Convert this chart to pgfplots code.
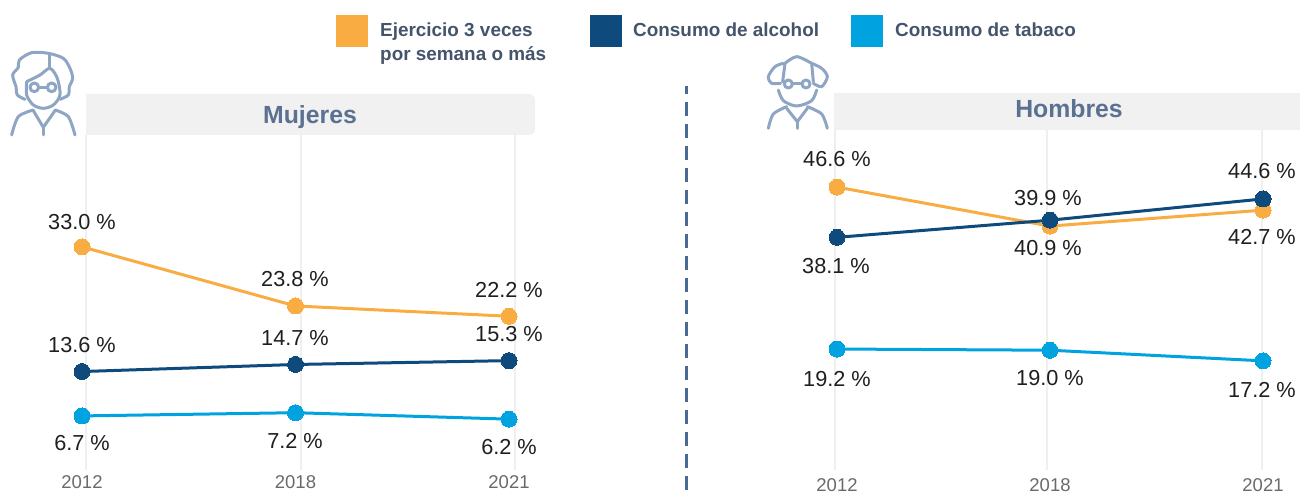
\documentclass[border=0pt]{standalone}
\usepackage{pgfplots}
\pgfplotsset{compat=1.18}
\usepackage{fontspec}
\setmainfont{Liberation Sans}
\definecolor{cOr}{HTML}{F9AC42}
\definecolor{cNa}{HTML}{0F4A7C}
\definecolor{cCy}{HTML}{00A3E0}
\definecolor{cLeg}{HTML}{44546A}
\definecolor{cDash}{HTML}{4A6A94}
\definecolor{cTit}{HTML}{5A7192}
\definecolor{cIco}{HTML}{8FA5C4}
\definecolor{cBox}{HTML}{F1F1F1}
\definecolor{cGrid}{HTML}{EFEFEF}
\definecolor{cTick}{HTML}{6A6A6A}
\newcommand{\fs}[1]{\fontsize{#1}{#1}\selectfont}
\pgfplotsset{
  panel/.style={
    scale only axis, clip=false, xmin=0, xmax=2, ymin=0, ymax=50,
    anchor=south west, axis line style={draw=none}, ytick=\empty,
    axis x line=bottom, axis y line=none,
    xtick={0,1,2}, xticklabels={2012,2018,2021}, major tick length=0pt,
    xticklabel style={font=\fs{18.5}, text=cTick, yshift=-13pt},
  },
  ser/.style={color=#1, line width=3pt, mark=*, mark size=8pt, mark options={fill=#1, draw=#1, line width=0pt}},
}
\begin{document}
\begin{tikzpicture}
\path[use as bounding box] (0pt,0pt) rectangle (1300pt,-494pt);
\begin{scope}[x=1pt,y=-1pt]
% panels' backgrounds
\fill[cBox,rounded corners=6pt] (70,94) rectangle (535,135);
\fill[white] (60,90) rectangle (86,140);
\fill[cBox] (834,93) rectangle (1300,130);
\foreach \x in {86,301,515} \draw[cGrid,line width=2.5pt] (\x,135) -- (\x,470);
\foreach \x in {835,1047,1262} \draw[cGrid,line width=2.5pt] (\x,130) -- (\x,470);
\draw[cDash,line width=3pt,dash pattern=on 14pt off 8pt,dash phase=6pt] (686,86) -- (686,493);
% titles
\node[text=cTit,font=\fs{24.8}\bfseries] at (310,117) {Mujeres};
\node[text=cTit,font=\fs{24.8}\bfseries] at (1069,109) {Hombres};
% legend
\fill[cOr] (336,15) rectangle (368,47);
\fill[cNa] (590,15) rectangle (622,47);
\fill[cCy] (851,15) rectangle (883,47);
\node[anchor=base west,inner sep=0pt,text=cLeg,font=\fs{18.9}\bfseries] at (380,37) {Ejercicio 3 veces};
\node[anchor=base west,inner sep=0pt,text=cLeg,font=\fs{18.9}\bfseries] at (380,61) {por semana o más};
\node[anchor=base west,inner sep=0pt,text=cLeg,font=\fs{18.9}\bfseries] at (633,37) {Consumo de alcohol};
\node[anchor=base west,inner sep=0pt,text=cLeg,font=\fs{18.9}\bfseries] at (895,37) {Consumo de tabaco};
\end{scope}
% left panel
\begin{axis}[panel, at={(82pt,-459pt)}, width=427pt, height=321.5pt]
\addplot[ser=cOr] coordinates {(0,33.0) (1,23.8) (2,22.2)};
\addplot[ser=cNa] coordinates {(0,13.6) (1,14.7) (2,15.3)};
\addplot[ser=cCy] coordinates {(0,6.7) (1,7.2) (2,6.2)};
\end{axis}
% right panel
\begin{axis}[panel, at={(837pt,-462.5pt)}, width=426pt, height=295.5pt]
\addplot[ser=cOr] coordinates {(0,46.6) (1,40.0) (2,42.7)};
\addplot[ser=cNa] coordinates {(0,38.1) (1,41.0) (2,44.6)};
\addplot[ser=cCy] coordinates {(0,19.2) (1,19.0) (2,17.2)};
\end{axis}
\begin{scope}[x=1pt,y=-1pt]
% value labels
\foreach \x/\y/\t in {82/222/33.0,295/279/23.8,509/290/22.2,82/345/13.6,295/338/14.7,509/334/15.3,82/443/6.7,295/441/7.2,509/447/6.2,
  837/159/46.6,1048/198/39.9,1262/171/44.6,836/266/38.1,1048/248/40.9,1262/237/42.7,837/379/19.2,1050/378/19.0,1262/390/17.2}
  \node[font=\fs{21.7},text=black!88] at (\x,\y) {\t{} \%};
% woman icon
\begin{scope}[shift={(0,40)},x=0.3333pt,y=-0.3333pt,cIco,line width=3pt,line cap=round,line join=round]
\draw plot[smooth] coordinates {(75,178) (52,165) (48,140) (38,105) (55,82) (58,60) (95,38) (145,40) (190,55) (210,85) (218,115) (208,140) (205,165) (180,178)};
\draw (150,42) -- (150,85);
\draw plot[smooth] coordinates {(80,125) (120,105) (150,85) (172,115) (180,165) (160,195) (130,205) (100,195) (80,165) (80,125)};
\draw (103,142) circle[radius=13];
\draw (155,142) circle[radius=13];
\draw (116,142) -- (142,142);
\draw plot[smooth] coordinates {(35,285) (55,230) (100,210)};
\draw plot[smooth] coordinates {(165,210) (205,230) (225,285)};
\draw (100,212) -- (130,262) -- (165,212);
\draw (130,262) -- (130,285);
\end{scope}
% man icon
\begin{scope}[shift={(750,40)},x=0.3333pt,y=-0.3333pt,cIco,line width=3pt,line cap=round,line join=round]
\draw plot[smooth] coordinates {(100,70) (75,80) (55,110) (65,130) (92,130)};
\draw plot[smooth] coordinates {(105,70) (140,50) (185,70)};
\draw plot[smooth] coordinates {(185,70) (215,85) (232,110) (215,140) (190,130)};
\draw (105,70) -- (98,125);
\draw (185,70) -- (190,125);
\draw plot[smooth] coordinates {(85,150) (100,182) (140,198) (185,182) (200,150)};
\draw (115,132) circle[radius=12];
\draw (168,132) circle[radius=12];
\draw (127,132) -- (156,132);
\draw plot[smooth] coordinates {(55,265) (70,222) (110,200)};
\draw plot[smooth] coordinates {(172,200) (215,222) (232,265)};
\draw (110,205) -- (142,245) -- (172,205);
\draw (142,245) -- (142,265);
\end{scope}
\end{scope}
\end{tikzpicture}
\end{document}
